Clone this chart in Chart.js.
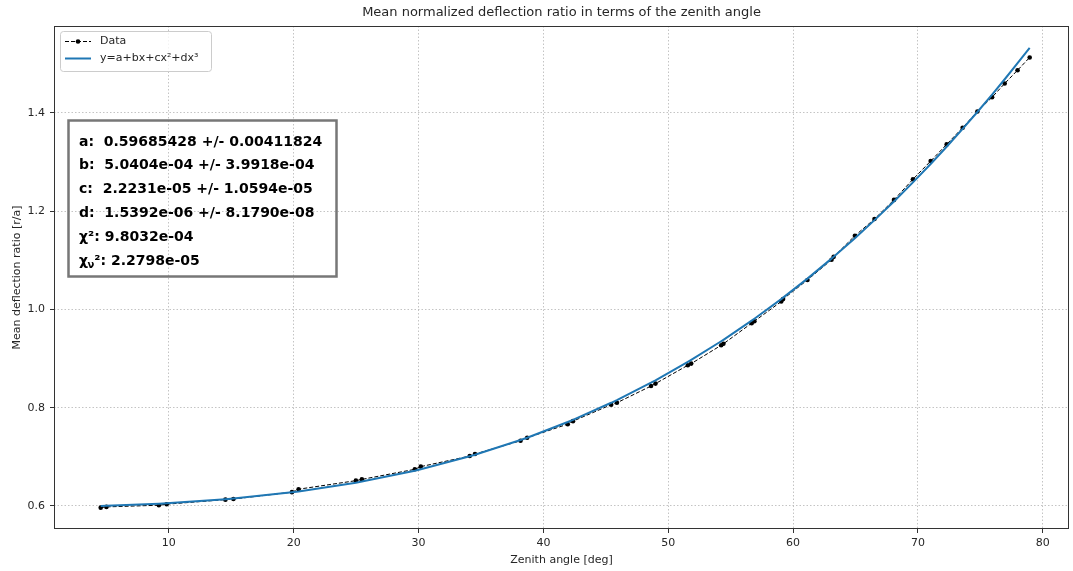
<!DOCTYPE html>
<html>
<head>
<meta charset="utf-8">
<script src="https://cdn.jsdelivr.net/npm/chart.js@4/dist/chart.umd.min.js"></script>
<style>
  html, body { margin: 0; padding: 0; background: #fff; }
  #wrap { width: 1073px; height: 571px; }
</style>
</head>
<body>
<div id="wrap"><canvas id="c" width="1073" height="571"></canvas></div>
<script>
// Measured mean deflection ratio per zenith angle
const zenithDeg = [4.54, 5.0, 9.2, 9.82, 14.53, 15.17, 19.86, 20.39, 24.98, 25.46,
  29.7, 30.18, 34.1, 34.52, 38.17, 38.7, 41.95, 42.37, 45.43, 45.89,
  48.62, 48.98, 51.57, 51.84, 54.24, 54.42, 56.68, 56.9, 59.05, 59.2,
  61.15, 63.08, 63.25, 64.95, 66.52, 68.08, 69.6, 71.02, 72.3, 73.58,
  74.76, 75.94, 76.95, 77.98, 78.95];
const deflection = [0.5965, 0.598, 0.6014, 0.6035, 0.6128, 0.614, 0.628, 0.634, 0.6514, 0.654,
  0.6745, 0.680, 0.7015, 0.7056, 0.7326, 0.7387, 0.7665, 0.7726, 0.806, 0.810,
  0.844, 0.849, 0.8863, 0.8897, 0.927, 0.930, 0.972, 0.976, 1.016, 1.021,
  1.060, 1.101, 1.107, 1.150, 1.184, 1.223, 1.265, 1.302, 1.336, 1.370,
  1.403, 1.432, 1.460, 1.487, 1.513];

// Cubic fit y = a + bx + cx^2 + dx^3
const fitNames = ['a', 'b', 'c', 'd'];
const fitCoef = [0.59685428, 5.0404e-04, 2.2231e-05, 1.5392e-06];
const fitErr = [0.00411824, 3.9918e-04, 1.0594e-05, 8.1790e-08];
const fitText = ['0.59685428', '5.0404e-04', '2.2231e-05', '1.5392e-06'];
const errText = ['0.00411824', '3.9918e-04', '1.0594e-05', '8.1790e-08'];
const chiSquare = '9.8032e-04';
const chiSquareReduced = '2.2798e-05';

const xTicks = [10, 20, 30, 40, 50, 60, 70, 80];
const yTicks = [0.6, 0.8, 1.0, 1.2, 1.4];

const titleText = 'Mean normalized deflection ratio in terms of the zenith angle';
const xTitle = 'Zenith angle [deg]';
const yTitle = 'Mean deflection ratio [r/a]';
const legendLabels = ['Data', 'y=a+bx+cx\u00b2+dx\u00b3'];

const C0 = '#1f77b4';
const TXT = '#262626';
const FONT = '"DejaVu Sans", sans-serif';
const BOX_FONT = 'bold 14px "DejaVu Sans", sans-serif';
const SUB_FONT = 'bold 10px "DejaVu Sans", sans-serif';

const dataPoints = zenithDeg.map((x, i) => ({ x: x, y: deflection[i] }));
const fitPoints = zenithDeg.map(x => ({
  x: x,
  y: fitCoef[0] + fitCoef[1] * x + fitCoef[2] * x * x + fitCoef[3] * x * x * x
}));

const decorations = {
  id: 'decorations',
  afterDraw(chart) {
    const ctx = chart.ctx;
    const a = chart.chartArea;
    ctx.save();
    // title
    ctx.fillStyle = TXT;
    ctx.font = '13px ' + FONT;
    ctx.textAlign = 'center';
    ctx.textBaseline = 'middle';
    ctx.fillText(titleText, (a.left + a.right) / 2, 13);

    // axes frame
    ctx.strokeStyle = '#333';
    ctx.lineWidth = 1;
    ctx.strokeRect(Math.round(a.left) + 0.5, Math.round(a.top) + 0.5,
      Math.round(a.right - a.left) - 1, Math.round(a.bottom - a.top) - 1);

    // legend
    const lx = 60.5, ly = 31.5, lw = 151, lh = 40;
    ctx.beginPath();
    ctx.roundRect(lx, ly, lw, lh, 3);
    ctx.fillStyle = 'rgba(255,255,255,0.8)';
    ctx.fill();
    ctx.strokeStyle = '#cccccc';
    ctx.stroke();

    const r1 = 41.5, r2 = 58.5;
    ctx.strokeStyle = '#000';
    ctx.lineWidth = 1.1;
    ctx.setLineDash([4, 2]);
    ctx.beginPath();
    ctx.moveTo(65, r1); ctx.lineTo(91, r1);
    ctx.stroke();
    ctx.setLineDash([]);
    ctx.fillStyle = '#000';
    ctx.beginPath();
    ctx.arc(78, r1, 2.3, 0, Math.PI * 2);
    ctx.fill();
    ctx.strokeStyle = C0;
    ctx.lineWidth = 2;
    ctx.beginPath();
    ctx.moveTo(65, r2); ctx.lineTo(91, r2);
    ctx.stroke();

    ctx.fillStyle = TXT;
    ctx.font = '11px ' + FONT;
    ctx.textAlign = 'left';
    ctx.textBaseline = 'middle';
    ctx.fillText(legendLabels[0], 100, r1);
    ctx.fillText(legendLabels[1], 100, r2);

    // fit parameter box
    ctx.strokeStyle = '#777';
    ctx.lineWidth = 2.5;
    ctx.strokeRect(68.5, 120.5, 268, 156);

    ctx.fillStyle = '#000';
    ctx.font = BOX_FONT;
    ctx.textBaseline = 'alphabetic';
    const tx = 79, base = 145.5, step = 23.8;
    for (let i = 0; i < 4; i++) {
      ctx.fillText(fitNames[i] + ':  ' + fitText[i] + ' +/- ' + errText[i], tx, base + step * i);
    }
    ctx.fillText('\u03c7\u00b2: ' + chiSquare, tx, base + step * 4);
    // reduced chi-square with subscript nu
    const yb = base + step * 5;
    ctx.fillText('\u03c7', tx, yb);
    const w = ctx.measureText('\u03c7').width;
    ctx.font = SUB_FONT;
    ctx.fillText('\u03bd', tx + w - 0.5, yb + 3);
    const wn = ctx.measureText('\u03bd').width;
    ctx.font = BOX_FONT;
    ctx.fillText('\u00b2: ' + chiSquareReduced, tx + w + wn - 0.5, yb);
    ctx.restore();
  }
};

const gridCommon = {
  color: '#b5b5b5',
  lineWidth: 0.8,
  drawTicks: true,
  tickLength: 4,
  tickColor: '#333',
  tickWidth: 1,
  tickBorderDash: []
};

new Chart(document.getElementById('c'), {
  type: 'line',
  data: {
    datasets: [
      {
        label: legendLabels[1],
        data: fitPoints,
        borderColor: C0,
        borderWidth: 2,
        pointRadius: 0,
        fill: false,
        tension: 0,
        order: 0
      },
      {
        label: legendLabels[0],
        data: dataPoints,
        borderColor: '#000',
        borderWidth: 1,
        borderDash: [4, 2],
        pointRadius: 2.3,
        pointBackgroundColor: '#000',
        pointBorderWidth: 0,
        fill: false,
        tension: 0,
        order: 1
      }
    ]
  },
  options: {
    responsive: false,
    animation: false,
    devicePixelRatio: 1,
    layout: { padding: { top: 26, right: 2, left: 0, bottom: 0 } },
    plugins: { legend: { display: false }, title: { display: false }, tooltip: { enabled: false } },
    scales: {
      x: {
        type: 'linear',
        min: 0.8,
        max: 82.1,
        afterBuildTicks: s => { s.ticks = xTicks.map(v => ({ value: v })); },
        afterFit: s => { s.height = 42; },
        grid: gridCommon,
        border: { display: false, dash: [1.5, 2] },
        ticks: { color: TXT, font: { family: FONT, size: 11 }, padding: 4, maxRotation: 0,
                 callback: v => String(v) },
        title: { display: true, text: xTitle, color: TXT, font: { family: FONT, size: 11 },
                 padding: { top: 0, bottom: 4.5 } }
      },
      y: {
        type: 'linear',
        min: 0.553,
        max: 1.577,
        afterBuildTicks: s => { s.ticks = yTicks.map(v => ({ value: v })); },
        afterFit: s => { s.width = 54; },
        grid: gridCommon,
        border: { display: false, dash: [1.5, 2] },
        ticks: { color: TXT, font: { family: FONT, size: 11 }, padding: 5,
                 callback: v => v.toFixed(1) },
        title: { display: true, text: yTitle, color: TXT, font: { family: FONT, size: 11 },
                 padding: { top: 10.5, bottom: 0 } }
      }
    }
  },
  plugins: [decorations]
});
</script>
</body>
</html>
